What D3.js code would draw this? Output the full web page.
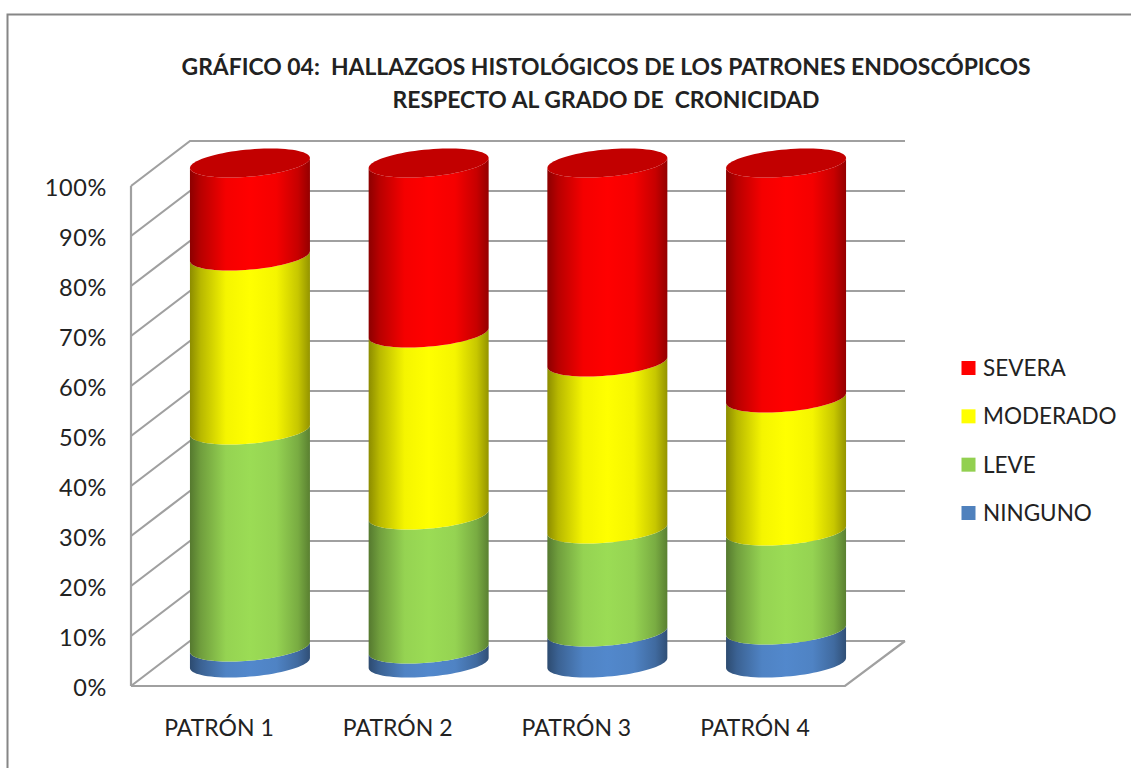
<!DOCTYPE html>
<html>
<head>
<meta charset="utf-8">
<script src="https://cdn.jsdelivr.net/npm/d3@7"></script>
<style>
body { margin: 0; background: #fff; }
text { font-family: Lato, "Open Sans", sans-serif; fill: #222; }
</style>
</head>
<body>
<div id="chart"></div>
<script>
const categories = ["PATRÓN 1", "PATRÓN 2", "PATRÓN 3", "PATRÓN 4"];
const seriesNames = ["NINGUNO", "LEVE", "MODERADO", "SEVERA"];
const ninguno = [3.2, 2.8, 6.2, 6.6];
const leve = [43.4, 26.8, 20.6, 19.8];
const moderado = [34.8, 36.4, 33.4, 26.6];
const severa = [18.6, 34.0, 39.8, 47.0];
const seriesColors = ["#5288cc", "#9bdc55", "#ffff00", "#ff0000"];
const legendColors = ["#4f81bd", "#92d050", "#ffff00", "#ff0000"];
const percentTicks = [0, 0.1, 0.2, 0.3, 0.4, 0.5, 0.6, 0.7, 0.8, 0.9, 1];
const titleLines = [
    "GRÁFICO 04:  HALLAZGOS HISTOLÓGICOS DE LOS PATRONES ENDOSCÓPICOS",
    "RESPECTO AL GRADO DE  CRONICIDAD"
];

const width = 1131, height = 768;
const wallDx = 59, wallDy = 45;      // depth of the fake 3d box
const rowsFront = [686, 186];        // 0% and 100% on the left front edge
const rowsCyl = [663, 163];          // same but for the centre of the cylinders

const svg = d3.select("#chart").append("svg")
    .attr("width", width)
    .attr("height", height)
    .style("display", "block");
const defs = svg.append("defs");

const yFront = d3.scaleLinear().domain([0, 1]).range(rowsFront);
const yCyl = d3.scaleLinear().domain([0, 1]).range(rowsCyl);
const x = d3.scaleBand().domain(categories).range([160.6, 875.4])
    .paddingInner(0.3285)
    .paddingOuter(0.16425);

const rows = categories.map((c, i) => ({
    cat: c, NINGUNO: ninguno[i], LEVE: leve[i], MODERADO: moderado[i], SEVERA: severa[i]
}));
const stacked = d3.stack().keys(seriesNames).offset(d3.stackOffsetExpand)(rows);

// outer frame
svg.append("path")
    .attr("d", "M7.5,768V14.5H1131")
    .attr("fill", "none")
    .attr("stroke", "#868686")
    .attr("stroke-width", 2);

drawWalls();
drawCylinders();
drawAxisLabels();
drawLegend();
drawTitle();

function drawWalls() {
    const g = svg.append("g")
        .attr("fill", "none")
        .attr("stroke", "#a0a0a0")
        .attr("stroke-width", 2.2);
    const x0 = 131, xBack = x0 + wallDx, xEnd = 905;

    percentTicks.forEach(function (t) {
        const y = yFront(t);
        g.append("path")
            .attr("d", "M" + x0 + "," + y + "L" + xBack + "," + (y - wallDy) + "H" + xEnd);
    });
    // left front edge
    g.append("path").attr("d", "M" + x0 + "," + yFront(0) + "V" + yFront(1));
    // floor
    g.append("path").attr("d", "M" + x0 + "," + yFront(0) + "H845L" + xEnd + "," + (yFront(0) - wallDy));
}

function gradient(id, color) {
    const c = d3.color(color);
    const grad = defs.append("linearGradient").attr("id", id);
    [[0, 0.55], [0.09, 0.72], [0.3, 0.96], [0.5, 1], [0.72, 0.96], [0.9, 0.78], [1, 0.58]].forEach(function (s) {
        grad.append("stop")
            .attr("offset", s[0])
            .attr("stop-color", d3.rgb(c.r * s[1], c.g * s[1], c.b * s[1]));
    });
}

// front half of the tilted ellipse, left to right
function frontArc(cx, cy, rx) {
    const tilt = 5, ry = 13.6;
    return d3.range(0, 41).map(function (i) {
        const a = Math.PI - Math.PI * i / 40;
        return [cx + rx * Math.cos(a), cy - tilt * Math.cos(a) + ry * Math.sin(a)];
    });
}

function topEllipse(cx, cy, rx) {
    const tilt = 5, ry = 13.6;
    return d3.range(0, 81).map(function (i) {
        const a = Math.PI * 2 * i / 80;
        return [cx + rx * Math.cos(a), cy - tilt * Math.cos(a) + ry * Math.sin(a)];
    });
}

function drawCylinders() {
    const line = d3.line();
    seriesColors.forEach(function (col, i) { gradient("cyl" + i, col); });

    stacked.forEach(function (layer, s) {
        svg.append("g").selectAll("path")
            .data(layer)
            .enter().append("path")
            .attr("fill", "url(#cyl" + s + ")")
            .attr("d", function (d) {
                const cx = x(d.data.cat) + x.bandwidth() / 2;
                const rx = x.bandwidth() / 2;
                const lower = frontArc(cx, yCyl(d[0]), rx);
                const upper = frontArc(cx, yCyl(d[1]), rx).reverse();
                return line(lower.concat(upper)) + "Z";
            });
    });

    // top caps
    const last = stacked[stacked.length - 1];
    svg.append("g").selectAll("path")
        .data(last)
        .enter().append("path")
        .attr("fill", "#c20000")
        .attr("d", function (d) {
            const cx = x(d.data.cat) + x.bandwidth() / 2;
            return line(topEllipse(cx, yCyl(d[1]), x.bandwidth() / 2)) + "Z";
        });
}

function drawAxisLabels() {
    const yAxis = d3.axisLeft(yFront)
        .tickValues(percentTicks)
        .tickFormat(d3.format(".0%"))
        .tickSize(0)
        .tickPadding(0);
    const ga = svg.append("g")
        .attr("transform", "translate(107,1.5)")
        .call(yAxis);
    ga.select(".domain").remove();
    ga.selectAll("text")
        .style("font-family", "Lato")
        .attr("font-size", 23.5)
        .attr("letter-spacing", 0.6)
        .attr("fill", "#222");

    const xAxis = d3.axisBottom(x).tickSize(0).tickPadding(0);
    const gx = svg.append("g")
        .attr("transform", "translate(-31,720)")
        .call(xAxis);
    gx.select(".domain").remove();
    gx.selectAll("text")
        .style("font-family", "Lato")
        .attr("font-size", 23)
        .attr("fill", "#222");
}

function drawLegend() {
    const names = seriesNames.slice().reverse();
    const cols = legendColors.slice().reverse();
    const ly = d3.scalePoint().domain(names).range([368, 513]);
    const g = svg.append("g");
    g.selectAll("rect")
        .data(names)
        .enter().append("rect")
        .attr("x", 961.5)
        .attr("y", function (d) { return ly(d) - 7; })
        .attr("width", 14)
        .attr("height", 14)
        .attr("fill", function (d, i) { return cols[i]; });
    g.selectAll("text")
        .data(names)
        .enter().append("text")
        .attr("x", 983)
        .attr("y", function (d) { return ly(d) + 8; })
        .attr("font-size", 22.5)
        .text(function (d) { return d; });
}

function drawTitle() {
    svg.append("g").selectAll("text")
        .data(titleLines)
        .enter().append("text")
        .attr("x", 606)
        .attr("y", function (d, i) { return 75 + i * 32.5; })
        .attr("text-anchor", "middle")
        .attr("font-size", 22.9)
        .attr("font-weight", 700)
        .attr("xml:space", "preserve")
        .text(function (d) { return d; });
}
</script>
</body>
</html>
